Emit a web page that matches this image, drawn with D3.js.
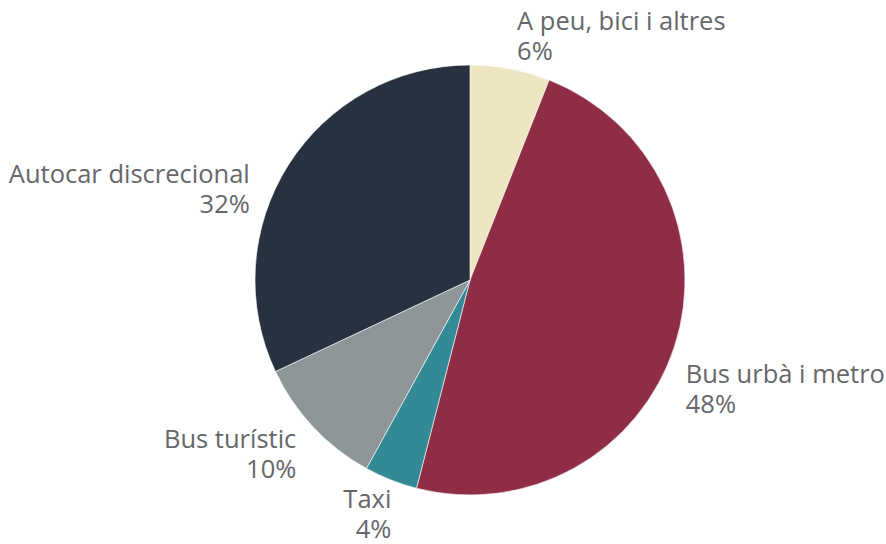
<!DOCTYPE html>
<html>
<head>
<meta charset="utf-8">
<script src="https://cdn.jsdelivr.net/npm/d3@7"></script>
<style>
  html, body { margin: 0; padding: 0; background: #fff; }
  svg text { font-family: "Open Sans", sans-serif; font-size: 25.5px; font-weight: 400; fill: #66676a; }
</style>
</head>
<body>
<div id="app"></div>
<script>
const categories = ['A peu, bici i altres', 'Bus urbà i metro', 'Taxi', 'Bus turístic', 'Autocar discrecional'];
const shares = [6, 48, 4, 10, 32];
const colours = ['#ede6c1', '#8e2d43', '#338a96', '#8e9596', '#273140'];
// small nudges for the label blocks, [dx, dy of first baseline]
const labelNudge = [[4, -24], [-3, 32], [6, 14], [-6, 11], [-26, 26]];

const width = 886;
const height = 544;
const cx = 470;
const cy = 280;
const radius = 215;
const lineHeight = 30;

const data = categories.map((name, i) => ({ name, value: shares[i], colour: colours[i], nudge: labelNudge[i] }));

const svg = d3.select('#app').append('svg')
  .attr('width', width)
  .attr('height', height);

const pie = d3.pie().sort(null).value(d => d.value);
const arc = d3.arc().innerRadius(0).outerRadius(radius);
const arcs = pie(data);

const g = svg.append('g').attr('transform', `translate(${cx},${cy})`);

g.selectAll('path')
  .data(arcs)
  .enter().append('path')
  .attr('d', arc)
  .attr('fill', d => d.data.colour)
  .attr('stroke', '#ffffff')
  .attr('stroke-width', 0.6);

const labelR = radius + 15;

g.selectAll('text.label')
  .data(arcs)
  .enter().append('text')
  .attr('class', 'label')
  .each(function (d) {
    const mid = (d.startAngle + d.endAngle) / 2;
    const x = Math.sin(mid) * labelR + d.data.nudge[0];
    const y = -Math.cos(mid) * labelR + d.data.nudge[1];
    const anchor = Math.sin(mid) >= 0 ? 'start' : 'end';
    const t = d3.select(this).attr('text-anchor', anchor);
    t.append('tspan').attr('x', x).attr('y', y).text(d.data.name);
    t.append('tspan').attr('x', x).attr('y', y + lineHeight).text(`${d.data.value}%`);
  });
</script>
</body>
</html>
